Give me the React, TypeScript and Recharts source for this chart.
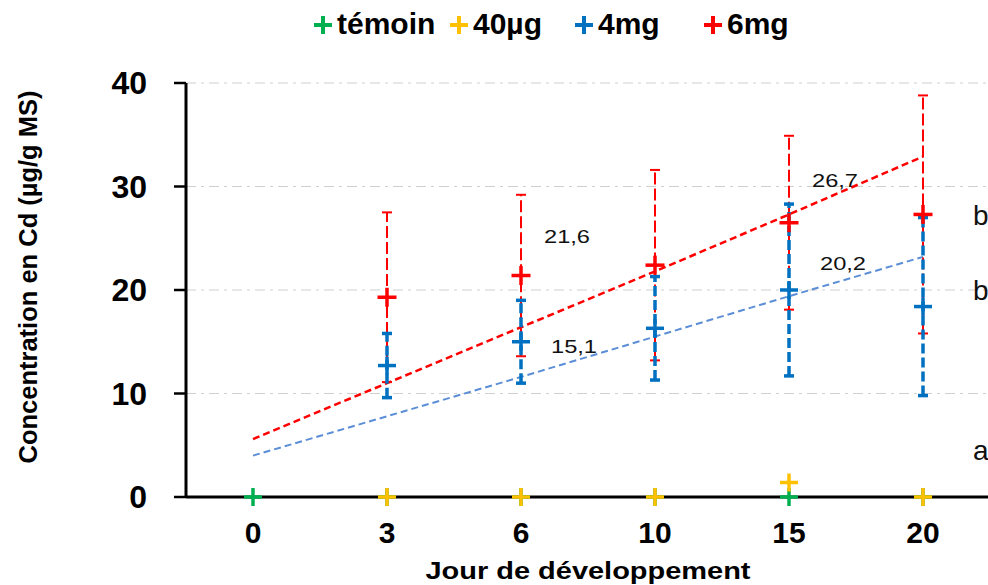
import React from 'react';
import { ComposedChart, Line, XAxis, YAxis, CartesianGrid, ErrorBar, LabelList } from 'recharts';

// Jours de prélèvement (axe catégoriel)
const DAYS = ['0', '3', '6', '10', '15', '20'];

// Concentrations moyennes en Cd (µg/g MS) et écarts
const TEMOIN = [0, 0, 0, 0, 0, 0];
const UG40 = [null, 0, 0, 0, 1.4, 0];
const MG4 = [null, 12.7, 15.0, 16.3, 20.0, 18.4];
const MG4_ERR = [null, 3.1, 4.0, 5.0, 8.3, 8.6];
const MG6 = [null, 19.3, 21.4, 22.4, 26.5, 27.3];
const MG6_ERR = [null, 8.2, 7.8, 9.2, 8.4, 11.5];

// Courbes de tendance
const TREND4 = [4.0, 7.8, 11.6, 15.5, 19.4, 23.2];
const TREND6 = [5.6, 11.0, 16.4, 21.8, 27.3, 32.9];

// Étiquettes
const LABELS4 = [null, null, '15,1', null, '20,2', 'b'];
const LABELS6 = [null, null, '21,6', null, '26,7', 'b'];
const LABELS40 = [null, null, null, null, null, 'a'];

const SERIES_NAMES = ['témoin', '40µg', '4mg', '6mg'];
const Y_TICKS = [0, 10, 20, 30, 40];
const BOUNDARY_TICKS = [0, 1, 2, 3, 4, 5, 6];

const GREEN = '#00B050';
const GOLD = '#FFC000';
const BLUE = '#0070C0';
const RED = '#FF0000';
const TREND_BLUE = '#5B8ED6';
const FONT = '"Liberation Sans", Arial, sans-serif';

const data = DAYS.map((d, i) => ({
  day: d,
  temoin: TEMOIN[i],
  ug40: UG40[i],
  mg4: MG4[i],
  mg4Err: MG4_ERR[i],
  mg6: MG6[i],
  mg6Err: MG6_ERR[i],
  trend4: TREND4[i],
  trend6: TREND6[i],
  lab4: LABELS4[i],
  lab6: LABELS6[i],
  lab40: LABELS40[i],
}));

// décalage des étiquettes par rapport au point (style seulement)
const LABEL_OFFSET: Record<string, [number, number]> = {
  '6:21,6': [23, -33],
  '6:26,7': [23, -36],
  '6:b': [50, 11],
  '4:15,1': [30, 11],
  '4:20,2': [31, -20],
  '4:b': [50, -7],
  '40:a': [50, -37],
};

const makeLabel = (series: string) => (props: any) => {
  const { x, y, value, index } = props;
  if (value == null || x == null || y == null) return null;
  const off = LABEL_OFFSET[`${series}:${value}`] ?? [20, -20];
  const letter = String(value).length === 1;
  return (
    <text
      key={`${series}-${index}`}
      x={x + off[0]}
      y={y + off[1]}
      fill="#111"
      fontFamily={FONT}
      fontSize={letter ? 28 : 19}
      textLength={letter ? undefined : 46}
      lengthAdjust="spacingAndGlyphs"
    >
      {value}
    </text>
  );
};

const plusDot = (color: string, size: number, sw: number) => (props: any) => {
  const { cx, cy, value, index } = props;
  if (cx == null || cy == null || value == null) return <g key={index} />;
  const h = size / 2;
  return (
    <g key={index}>
      <line x1={cx - h} y1={cy} x2={cx + h} y2={cy} stroke={color} strokeWidth={sw} />
      <line x1={cx} y1={cy - h} x2={cx} y2={cy + h} stroke={color} strokeWidth={sw} />
    </g>
  );
};

const LEGEND_COLORS = [GREEN, GOLD, BLUE, RED];
const LEGEND_LEFT = [312, 448, 573, 702];

export default function App() {
  return (
    <div style={{ position: 'absolute', left: 0, top: 0, width: 988, height: 585, overflow: 'hidden', background: '#fff', fontFamily: FONT }}>
      {/* légende */}
      {SERIES_NAMES.map((n, i) => (
        <div
          key={n}
          style={{
            position: 'absolute',
            left: LEGEND_LEFT[i],
            top: 6,
            fontSize: 30,
            fontWeight: 'bold',
            lineHeight: '36px',
            whiteSpace: 'nowrap',
            color: '#000',
            display: 'flex',
            alignItems: 'center',
          }}
        >
          <svg width={22} height={20} style={{ marginRight: 3, marginTop: 2 }}>
            <line x1={2} y1={10} x2={20} y2={10} stroke={LEGEND_COLORS[i]} strokeWidth={4} />
            <line x1={11} y1={1} x2={11} y2={19} stroke={LEGEND_COLORS[i]} strokeWidth={4} />
          </svg>
          {n}
        </div>
      ))}

      <ComposedChart
        width={992}
        height={585}
        data={data}
        margin={{ top: 83, right: 2, bottom: 28, left: 0 }}
        style={{ position: 'absolute', left: 0, top: 0 }}
      >
        <CartesianGrid vertical={false} stroke="#cfcfcf" strokeWidth={1.2} strokeDasharray="10 5 3 5" />
        <XAxis
          xAxisId="bounds"
          type="number"
          domain={[0, 6]}
          ticks={BOUNDARY_TICKS}
          allowDataOverflow
          interval={0}
          height={0}
          axisLine={false}
          tick={false}
          tickSize={10}
          tickLine={{ stroke: '#000', strokeWidth: 2.5 }}
        />
        <XAxis
          dataKey="day"
          xAxisId="cat"
          scale="band"
          interval={0}
          height={60}
          tickLine={false}
          tickSize={10}
          tickMargin={15}
          axisLine={{ stroke: '#000', strokeWidth: 3 }}
          tick={{ fill: '#000', fontSize: 30, fontWeight: 'bold', fontFamily: FONT }}
          label={{
            content: (p: any) => {
              const vb = p.viewBox || { x: 186, y: 497, width: 804, height: 60 };
              return (
                <text
                  x={vb.x + vb.width / 2}
                  y={vb.y + vb.height + 22}
                  textAnchor="middle"
                  fontSize={23}
                  fontWeight="bold"
                  fontFamily={FONT}
                  fill="#000"
                  textLength={325}
                  lengthAdjust="spacingAndGlyphs"
                >
                  Jour de développement
                </text>
              );
            },
          }}
        />
        <YAxis
          width={186}
          domain={[0, 40]}
          ticks={Y_TICKS}
          tickSize={12}
          tickMargin={27}
          axisLine={{ stroke: '#000', strokeWidth: 3 }}
          tickLine={{ stroke: '#000', strokeWidth: 2.5 }}
          tick={{ fill: '#000', fontSize: 32, fontWeight: 'bold', fontFamily: FONT }}
          label={{
            content: (p: any) => {
              const vb = p.viewBox || { x: 0, y: 83, width: 186, height: 414 };
              const cx = 28;
              const cy = vb.y + vb.height / 2 - 13;
              return (
                <text
                  x={cx}
                  y={cy}
                  transform={`rotate(-90, ${cx}, ${cy})`}
                  textAnchor="middle"
                  dominantBaseline="central"
                  fontSize={25}
                  fontWeight="bold"
                  fontFamily={FONT}
                  fill="#000"
                  textLength={373}
                  lengthAdjust="spacingAndGlyphs"
                >
                  Concentration en Cd (µg/g MS)
                </text>
              );
            },
          }}
        />

        {/* courbes de tendance */}
        <Line xAxisId="cat" dataKey="trend6" stroke={RED} strokeWidth={2.5} strokeDasharray="7 4" dot={false} activeDot={false} isAnimationActive={false} />
        <Line xAxisId="cat" dataKey="trend4" stroke={TREND_BLUE} strokeWidth={2} strokeDasharray="7 4" dot={false} activeDot={false} isAnimationActive={false} />

        <Line xAxisId="cat" dataKey="mg6" name="6mg" stroke="none" dot={plusDot(RED, 19, 3.5)} activeDot={false} isAnimationActive={false}>
          <ErrorBar dataKey="mg6Err" direction="y" width={5} stroke={RED} strokeWidth={2} strokeDasharray="12 4" isAnimationActive={false} />
          <LabelList dataKey="lab6" content={makeLabel('6')} />
        </Line>
        <Line xAxisId="cat" dataKey="mg4" name="4mg" stroke="none" dot={plusDot(BLUE, 18, 3.5)} activeDot={false} isAnimationActive={false}>
          <ErrorBar dataKey="mg4Err" direction="y" width={5} stroke={BLUE} strokeWidth={3.5} strokeDasharray="10 4" isAnimationActive={false} />
          <LabelList dataKey="lab4" content={makeLabel('4')} />
        </Line>
        <Line xAxisId="cat" dataKey="temoin" name="témoin" stroke="none" dot={plusDot(GREEN, 18, 3.5)} activeDot={false} isAnimationActive={false} />
        <Line xAxisId="cat" dataKey="ug40" name="40µg" stroke="none" dot={plusDot(GOLD, 18, 3.5)} activeDot={false} isAnimationActive={false}>
          <LabelList dataKey="lab40" content={makeLabel('40')} />
        </Line>
      </ComposedChart>
    </div>
  );
}
